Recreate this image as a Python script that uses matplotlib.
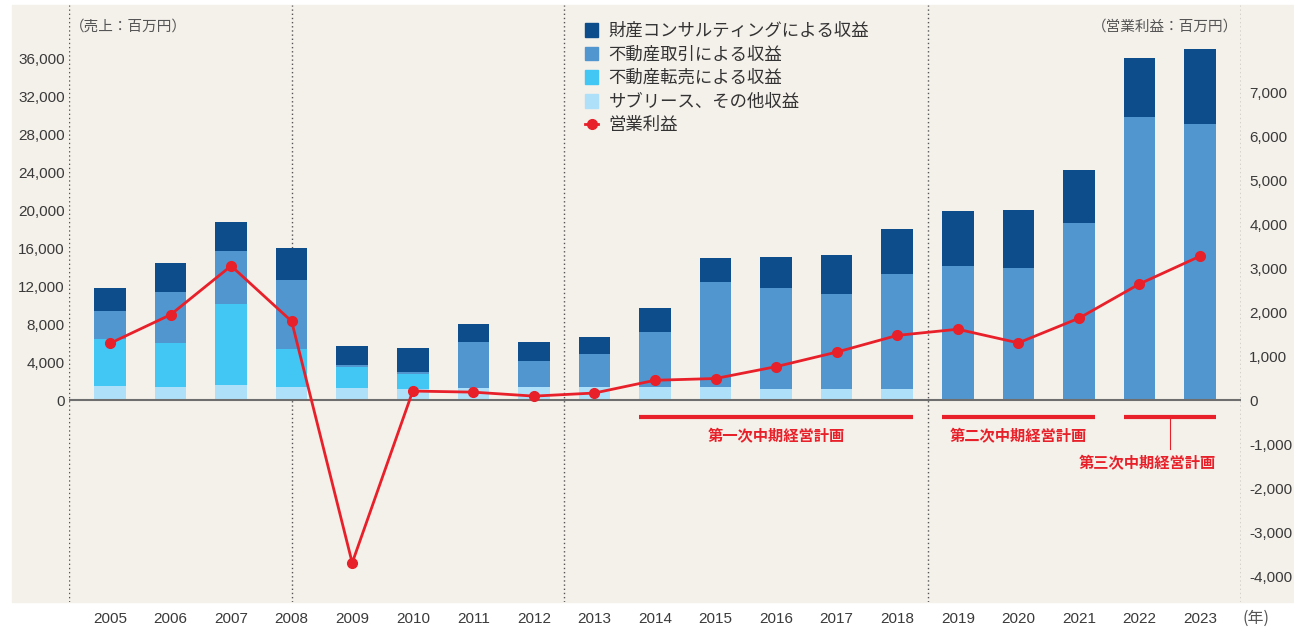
import numpy as np
import matplotlib.pyplot as plt
from matplotlib.patches import Rectangle, Patch
from matplotlib.lines import Line2D

# data (百万円)
years = [str(y) for y in range(2005, 2024)]
sublease = [1470, 1370, 1580, 1370, 1260, 1160, 1260, 1370, 1370, 1370,
            1370, 1160, 1160, 1160, 0, 0, 0, 0, 0]
resale = [4950, 4630, 8520, 4000, 2210, 1580, 0, 0, 0, 0,
          0, 0, 0, 0, 0, 0, 0, 0, 0]
trading = [2950, 5370, 5580, 7260, 210, 210, 4840, 2730, 3470, 5790,
           11050, 10630, 10000, 12100, 14100, 13900, 18600, 29800, 29050]
consulting = [2420, 3050, 3060, 3370, 2000, 2520, 1900, 2000, 1790, 2520,
              2530, 3260, 4100, 4740, 5790, 6100, 5600, 6200, 7900]
op_profit = [1290, 1940, 3050, 1790, -3700, 205, 180, 90, 160, 450,
             490, 760, 1090, 1470, 1610, 1300, 1860, 2640, 3270]

labels = ['財産コンサルティングによる収益', '不動産取引による収益',
          '不動産転売による収益', 'サブリース、その他収益']
profit_label = '営業利益'

plans = ['第一次中期経営計画', '第二次中期経営計画', '第三次中期経営計画']
plan_first = [9, 14, 17]
plan_last = [13, 16, 18]

col_dark = '#0e4d8b'
col_mid = '#5296d0'
col_cyan = '#42c6f3'
col_light = '#aee1f9'
col_red = '#e8202a'
bg = '#f4f0ea'
txt = '#3a3a3a'

jp = ['Noto Sans CJK JP', 'DejaVu Sans']
num = ['Liberation Sans', 'DejaVu Sans']

fig = plt.figure(figsize=(12.94, 6.33), dpi=100)
W, H = 1294.0, 633.0
fig.patches.append(Rectangle((12 / W, 1 - 602 / H), 1 - 12 / W, (602 - 5) / H,
                             transform=fig.transFigure, color=bg, zorder=-10))

ax = fig.add_axes([69 / W, 1 - 602 / H, (1241 - 69) / W, (602 - 5) / H])
ax.patch.set_visible(False)
ax2 = ax.twinx()
ax2.patch.set_visible(False)

x = np.arange(len(years))
w = 0.52
s = np.array(sublease)
r = np.array(resale)
t = np.array(trading)
c = np.array(consulting)
ax.bar(x, s, w, color=col_light, zorder=3)
ax.bar(x, r, w, bottom=s, color=col_cyan, zorder=3)
ax.bar(x, t, w, bottom=s + r, color=col_mid, zorder=3)
ax.bar(x, c, w, bottom=s + r + t, color=col_dark, zorder=3)

ax.set_xlim(-0.677, len(years) - 1 + 0.677)
ax.set_ylim(-21260, 41580)
ax2.set_ylim(-4590, 8980)

# dotted separators
for xv in [-0.677, 3, 7.5, 13.5, len(years) - 1 + 0.677]:
    ax.axvline(xv, color='#555555', lw=1, ls=(0, (1, 2)), zorder=1)
ax.axhline(0, color='#6e6e6e', lw=1.5, zorder=4)

ax2.plot(x, op_profit, color=col_red, lw=2, marker='o', ms=7, zorder=5)

# 中期経営計画
for i in range(3):
    x0 = plan_first[i] - w / 2
    x1 = plan_last[i] + w / 2
    ax2.plot([x0, x1], [-386, -386], color=col_red, lw=3, solid_capstyle='butt')
    if i < 2:
        ax2.text((x0 + x1) / 2, -818, plans[i], color=col_red, ha='center', va='center',
                 fontsize=11, fontweight='bold', family=jp)
    else:
        ax2.plot([17.5, 17.5], [-386, -1120], color=col_red, lw=0.8)
        ax2.text(x1, -1432, plans[i], color=col_red, ha='right', va='center',
                 fontsize=11, fontweight='bold', family=jp)

ax.set_xticks(x)
ax.set_xticklabels(years)
ax.set_yticks(np.arange(0, 36001, 4000))
ax.set_yticklabels([f'{v:,}' for v in range(0, 36001, 4000)])
ax2.set_yticks(np.arange(-4000, 7001, 1000))
ax2.set_yticklabels([f'{v:,}' for v in range(-4000, 7001, 1000)])
ax.tick_params(axis='x', length=0, pad=7, labelsize=11, labelcolor=txt)
ax.tick_params(axis='y', length=0, pad=3, labelsize=11, labelcolor=txt)
ax2.tick_params(axis='y', length=0, pad=6, labelsize=11, labelcolor=txt)
for lab in ax.get_xticklabels() + ax.get_yticklabels() + ax2.get_yticklabels():
    lab.set_family(num)
for a in (ax, ax2):
    for sp in a.spines.values():
        sp.set_visible(False)

fig.text(70 / W, 1 - 27 / H, '（売上：百万円）', family=jp, fontsize=10.5, color='#555555',
         ha='left', va='center')
fig.text(1238 / W, 1 - 27 / H, '（営業利益：百万円）', family=jp, fontsize=10.5, color='#555555',
         ha='right', va='center')
fig.text(1256 / W, 1 - 618 / H, '(年)', family=jp, fontsize=11.5, color='#555555',
         ha='center', va='center')

handles = [Patch(color=col_dark), Patch(color=col_mid), Patch(color=col_cyan),
           Patch(color=col_light),
           Line2D([], [], color=col_red, lw=2, marker='o', ms=7)]
leg = ax2.legend(handles, labels + [profit_label], loc='upper left',
                 bbox_to_anchor=(585 / W, 1 - 22 / H), bbox_transform=fig.transFigure,
                 frameon=False, prop={'family': jp, 'size': 12.5},
                 handlelength=0.75, handleheight=0.85, handletextpad=0.6,
                 labelspacing=0.32, borderpad=0, borderaxespad=0)
for tx in leg.get_texts():
    tx.set_color('#333333')

fig.savefig('out.png', dpi=100)
